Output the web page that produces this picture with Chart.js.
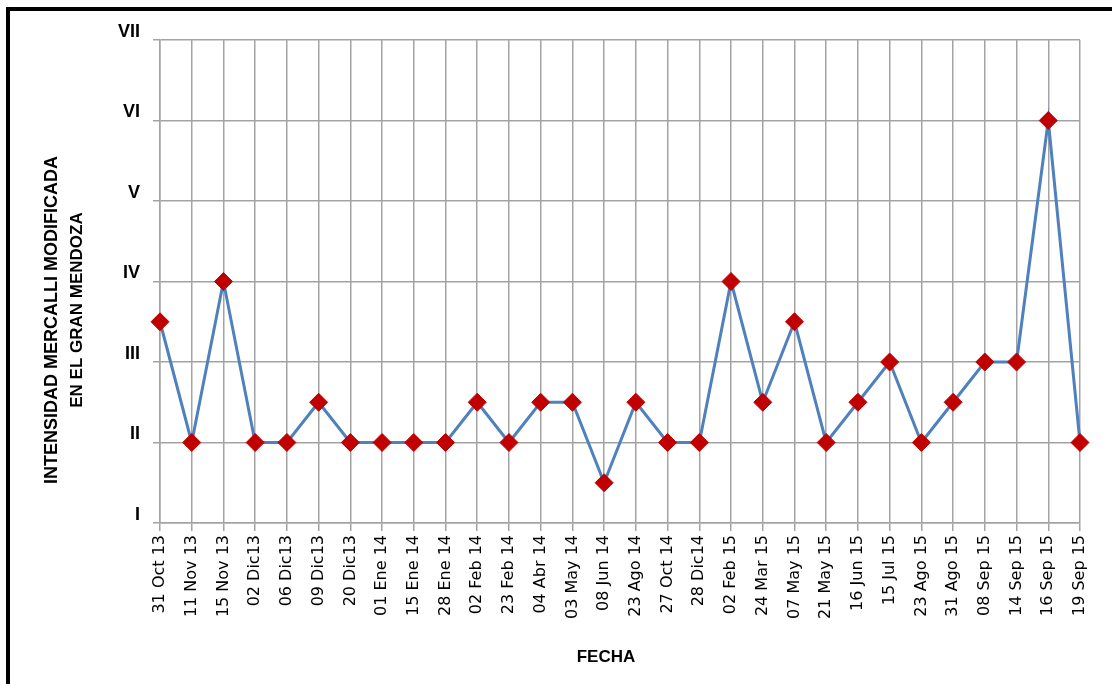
<!DOCTYPE html>
<html lang="es">

<head>
    <meta charset="UTF-8">
    <title>Intensidad Mercalli</title>
    <script src="https://cdn.jsdelivr.net/npm/chart.js"></script>
    <style>
        html, body { margin: 0; padding: 0; background: #fff; overflow: hidden; }
        .marco {
            position: absolute; left: 6px; top: 7px; right: -10px; bottom: -10px;
            border-left: 4px solid #000; border-top: 4px solid #000;
        }
        .grafico { position: absolute; left: 0; top: 0; width: 1112px; height: 684px; }
    </style>
</head>

<body>
    <div class="marco"></div>
    <div class="grafico">
        <canvas id="chart" width="1112" height="684"></canvas>
    </div>

    <script>
        // datos
        const fechas = ['31 Oct 13', '11 Nov 13', '15 Nov 13', '02 Dic13', '06 Dic13', '09 Dic13', '20 Dic13',
            '01 Ene 14', '15 Ene 14', '28 Ene 14', '02 Feb 14', '23 Feb 14', '04 Abr 14', '03 May 14',
            '08 Jun 14', '23 Ago 14', '27 Oct 14', '28 Dic14', '02 Feb 15', '24 Mar 15', '07 May 15',
            '21 May 15', '16 Jun 15', '15 Jul 15', '23 Ago 15', '31 Ago 15', '08 Sep 15', '14 Sep 15',
            '16 Sep 15', '19 Sep 15'];
        const intensidad = [3.5, 2, 4, 2, 2, 2.5, 2, 2, 2, 2, 2.5, 2, 2.5, 2.5, 1.5, 2.5, 2, 2,
            4, 2.5, 3.5, 2, 2.5, 3, 2, 2.5, 3, 3, 6, 2];
        const romanos = ['', 'I', 'II', 'III', 'IV', 'V', 'VI', 'VII'];
        const tituloY = ['INTENSIDAD MERCALLI MODIFICADA', 'EN EL GRAN MENDOZA'];
        const tituloX = 'FECHA';

        const gris = '#a3a3a3';

        // titulos de los ejes, dibujados a mano para ubicarlos como en el original
        const titulos = {
            id: 'titulos',
            afterDraw(chart) {
                const c = chart.ctx;
                c.save();
                c.fillStyle = '#000';
                c.textAlign = 'center';
                c.textBaseline = 'middle';
                c.font = 'bold 18px "Liberation Sans"';
                c.save();
                c.translate(52, 320);
                c.rotate(-Math.PI / 2);
                c.fillText(tituloY[0], 0, 0);
                c.restore();
                c.save();
                c.translate(77, 310);
                c.rotate(-Math.PI / 2);
                c.font = 'bold 17px "Liberation Sans"';
                c.fillText(tituloY[1], 0, 0);
                c.restore();
                c.font = 'bold 17px "Liberation Sans"';
                c.fillText(tituloX, 606, 657);
                c.restore();
            }
        };

        const ctx = document.getElementById('chart').getContext('2d');
        const chart = new Chart(ctx, {
            type: 'line',
            data: {
                labels: fechas,
                datasets: [{
                    data: intensidad,
                    borderColor: '#4f81bd',
                    borderWidth: 3,
                    tension: 0,
                    pointStyle: 'rectRot',
                    pointRadius: 9,
                    pointBackgroundColor: '#c00000',
                    pointBorderColor: '#c00000',
                    pointBorderWidth: 1
                }]
            },
            options: {
                responsive: false,
                animation: false,
                layout: { padding: { left: 30, top: 40, right: 32, bottom: 10 } },
                plugins: {
                    legend: { display: false },
                    tooltip: { enabled: false }
                },
                scales: {
                    x: {
                        offset: false,
                        afterFit: function (scale) { scale.height = 151; },
                        grid: { color: gris, lineWidth: 1.5, tickLength: 8, offset: false },
                        border: { color: gris, width: 1.5 },
                        ticks: {
                            autoSkip: false,
                            maxRotation: 90,
                            minRotation: 90,
                            padding: 4,
                            color: '#000',
                            font: { family: 'DejaVu Sans', size: 16 }
                        }
                    },
                    y: {
                        min: 1,
                        max: 7,
                        afterFit: function (scale) { scale.width = 130; },
                        grid: { color: gris, lineWidth: 1.5, tickLength: 7 },
                        border: { color: gris, width: 1.5 },
                        ticks: {
                            stepSize: 1,
                            padding: 13,
                            labelOffset: -8,
                            color: '#000',
                            font: { family: 'Liberation Sans', size: 18, weight: 'bold' },
                            callback: function (value) { return romanos[value]; }
                        }
                    }
                }
            },
            plugins: [titulos]
        });
    </script>
</body>

</html>
